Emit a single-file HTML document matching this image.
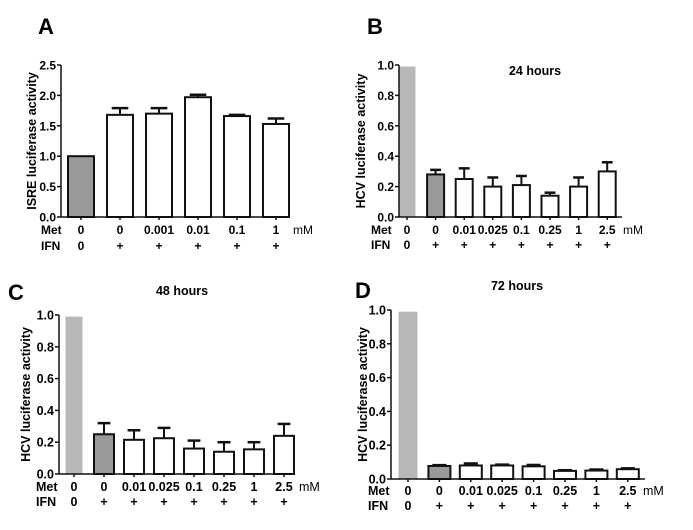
<!DOCTYPE html>
<html><head><meta charset="utf-8"><style>
body{margin:0;background:#fff;}
svg{display:block;font-family:"Liberation Sans",Arial,sans-serif;font-weight:bold;}
</style></head><body>
<svg id="fig" width="693" height="530" viewBox="0 0 693 530" xmlns="http://www.w3.org/2000/svg"></svg>
<script>
const aMet=["0","0","0.001","0.01","0.1","1"];
const aIfn=["0","+","+","+","+","+"];
const aVals=[1.0,1.68,1.70,1.97,1.66,1.53];
const aErr=[0,0.11,0.09,0.04,0.02,0.09];
const aTicks=["0.0","0.5","1.0","1.5","2.0","2.5"];
const hMet=["0","0","0.01","0.025","0.1","0.25","1","2.5"];
const hIfn=["0","+","+","+","+","+","+","+"];
const hTicks=["0.0","0.2","0.4","0.6","0.8","1.0"];
const bVals=[0.99,0.28,0.25,0.20,0.21,0.14,0.20,0.30];
const bErr=[0,0.03,0.07,0.06,0.06,0.02,0.06,0.06];
const cVals=[0.99,0.25,0.215,0.225,0.16,0.14,0.155,0.24];
const cErr=[0,0.07,0.06,0.065,0.05,0.06,0.045,0.075];
const dVals=[0.99,0.077,0.08,0.08,0.075,0.048,0.05,0.058];
const dErr=[0,0.005,0.012,0.005,0.008,0.004,0.006,0.005];

const svg=document.getElementById('fig');
const NS="http://www.w3.org/2000/svg";
function el(tag,attrs,parent,text){const e=document.createElementNS(NS,tag);for(const k in attrs)e.setAttribute(k,attrs[k]);if(text!==undefined)e.textContent=text;(parent||svg).appendChild(e);return e;}

function panel(p){
  const g=el('g',{},svg);
  
  
  const ymax=parseFloat(p.ticks[p.ticks.length-1]);
  const y=v=>p.y0-(v/ymax)*(p.y0-p.y1);
  const xs=i=>p.x0+i*p.step;
  const fs=p.fs;
  const L=el('text',{x:p.lx,y:p.ly,'font-size':22},g,p.id);
  
  
  if(p.title){const t=el('text',{x:p.tx,y:p.ty,'font-size':12.5,'text-anchor':'middle'},g,p.title);
    
    }
  const yt=el('text',{transform:`translate(${p.ytx},${(p.y0+p.y1)/2}) rotate(-90)`,'font-size':12.5,'text-anchor':'middle'},g,p.ytitle);
  
  
  p.vals.forEach((v,i)=>{
    const cx=xs(i),w=(i===0&&p.light)?p.lw:p.bw;
    let fill='#fff',stroke='#111',sw=2;
    if(i===0&&p.light){fill='#b8b8b8';stroke='none';sw=0;}
    else if((i===0&&!p.light)||(i===1&&p.light)){fill='#999';}
    if(p.err[i]>0){
      const ey=y(v+p.err[i]);
      const cw=w*0.32;
      el('line',{x1:cx,x2:cx,y1:y(v),y2:ey,stroke:'#111','stroke-width':2},g);
      el('line',{x1:cx-cw,x2:cx+cw,y1:ey,y2:ey,stroke:'#111','stroke-width':2.5},g);
    }
    const r=el('rect',{x:cx-w/2,y:y(v),width:w,height:p.y0-y(v),fill:fill,stroke:stroke,'stroke-width':sw},g);
    
    
  });
  el('line',{x1:p.ax,x2:p.ax,y1:p.y1,y2:p.y0,stroke:'#111','stroke-width':1.5},g);
  el('line',{x1:p.ax,x2:p.axEnd,y1:p.y0,y2:p.y0,stroke:'#111','stroke-width':1.5},g);
  p.ticks.forEach(t=>{const ty=y(parseFloat(t));
    el('line',{x1:p.ax-4,x2:p.ax,y1:ty,y2:ty,stroke:'#111','stroke-width':1.5},g);
    const tt=el('text',{x:p.ax-5,y:ty+4.5,'font-size':fs,'text-anchor':'end'},g,t);
    
    
  });
  p.vals.forEach((v,i)=>{el('line',{x1:xs(i),x2:xs(i),y1:p.y0,y2:p.y0+3,stroke:'#111','stroke-width':1.5},g);});
  const m=el('text',{x:p.labx,y:p.metY,'font-size':fs},g,'Met');
  
  
  const f=el('text',{x:p.labx,y:p.ifnY,'font-size':fs},g,'IFN');
  
  
  p.met.forEach((t,i)=>{const e=el('text',{x:xs(i),y:p.metY,'font-size':fs,'text-anchor':'middle'},g,t);
    
    });
  p.ifn.forEach((t,i)=>{const e=el('text',{x:xs(i),y:p.ifnY,'font-size':fs,'text-anchor':'middle'},g,t);
    
    });
  const u=el('text',{x:p.mmx,y:p.metY,'font-size':fs,'font-weight':'normal'},g,'mM');
  
  
}

panel({id:'A',lx:38,ly:34,fs:12,ytitle:'ISRE luciferase activity',ytx:36,ax:61,axEnd:290,y0:217,y1:65,x0:81,step:39,bw:26,lw:26,light:false,
  vals:aVals,err:aErr,ticks:aTicks,met:aMet,ifn:aIfn,labx:41,metY:234,ifnY:250,mmx:293});
panel({id:'B',lx:367,ly:34,fs:12,title:'24 hours',tx:535,ty:75,ytitle:'HCV luciferase activity',ytx:365,ax:399,axEnd:622,y0:217,y1:65,x0:407,step:28.6,bw:17,lw:17,light:true,
  vals:bVals,err:bErr,ticks:hTicks,met:hMet,ifn:hIfn,labx:371,metY:234,ifnY:249,mmx:623});
panel({id:'C',lx:8,ly:300,fs:12.5,title:'48 hours',tx:182,ty:295,ytitle:'HCV luciferase activity',ytx:30,ax:59,axEnd:294,y0:474,y1:315,x0:74,step:30,bw:20,lw:17,light:true,
  vals:cVals,err:cErr,ticks:hTicks,met:hMet,ifn:hIfn,labx:36,metY:491,ifnY:506,mmx:299});
panel({id:'D',lx:355,ly:298,fs:12.5,title:'72 hours',tx:517,ty:290,ytitle:'HCV luciferase activity',ytx:367,ax:391,axEnd:645,y0:479,y1:310,x0:408,step:31.4,bw:22,lw:19,light:true,
  vals:dVals,err:dErr,ticks:hTicks,met:hMet,ifn:hIfn,labx:368,metY:495,ifnY:510,mmx:643});
</script>
</body></html>
